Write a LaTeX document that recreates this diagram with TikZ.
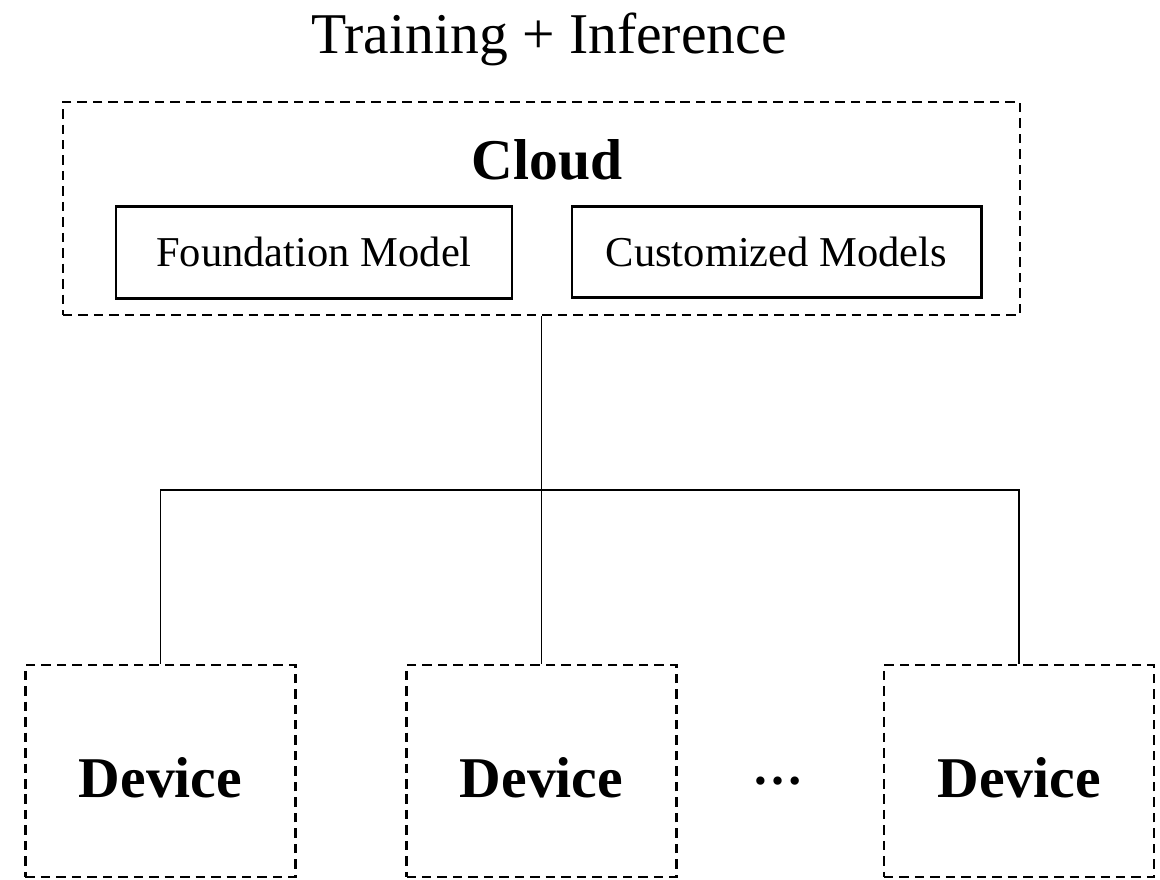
\documentclass[tikz,border=0pt]{standalone}
\usepackage{fontspec}
\setmainfont{Liberation Serif}
\usetikzlibrary{positioning}

\begin{document}
\begin{tikzpicture}[
	dashbox/.style={draw, line width=0.75pt, dash pattern=on 2.7pt off 1.7pt, inner sep=0pt},
	modelbox/.style={draw, line width=0.85pt, inner sep=0pt, font=\fontsize{12.1}{14}\selectfont},
	bigtext/.style={font=\fontsize{16.4}{19}\selectfont},
	link/.style={line width=0.5pt}
	]
	\useasboundingbox (0,0) rectangle (11.6,-8.79);

	\node[bigtext] (title) at (5.49,-0.39) {Training + Inference};

	% cloud side
	\node[dashbox, minimum width=9.57cm, minimum height=2.13cm] (cloud) at (5.415,-2.085) {};
	\node[bigtext, font=\fontsize{16.4}{19}\selectfont\bfseries] (cloudlabel) at (5.47,-1.60) {Cloud};
	\node[modelbox, minimum width=3.96cm, minimum height=0.92cm] (found) at (3.14,-2.52) {Foundation Model};
	\node[modelbox, minimum width=4.09cm, minimum height=0.91cm] (custom) at (7.765,-2.515) {Customized Models};

	% devices
	\foreach \i/\x in {1/1.605, 2/5.415, 3/10.19}
	  {
	      \node[dashbox, minimum width=2.70cm, minimum height=2.12cm] (dev\i) at (\x,-7.71) {};
	      \node[bigtext, font=\fontsize{16.4}{19}\selectfont\bfseries] (devlabel\i) at (\x,-7.78) {Device};
	  }
	\node[font=\fontsize{14.5}{17}\selectfont\bfseries] (dots) at (7.78,-7.81) {…};

	\coordinate (bus) at (5.415,-4.90);
	\draw[link] (cloud.south) -- (bus);
	\draw[link] (dev1.north) |- (bus);
	\draw[link] (dev3.north) |- (bus);
	\draw[link] (dev2.north) -- (bus);
    \end{tikzpicture}
\end{document}
